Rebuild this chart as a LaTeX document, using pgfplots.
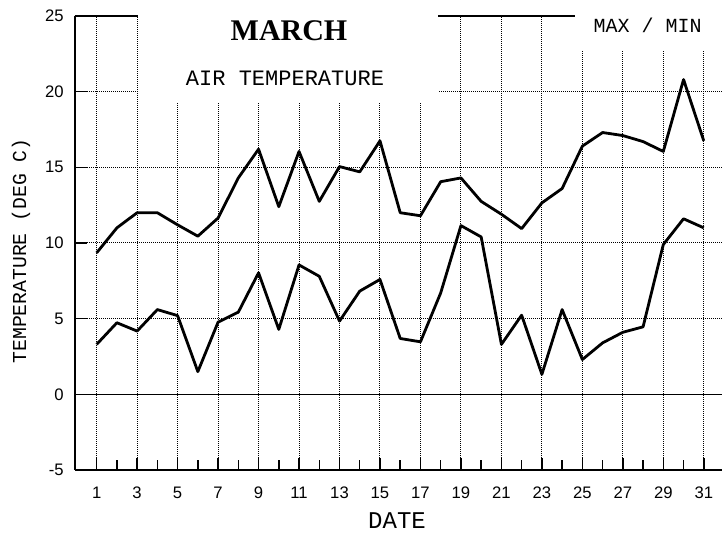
\documentclass[border=0pt]{standalone}
\usepackage{fontspec}
\usepackage{pgfplots}
\pgfplotsset{compat=1.18}
\newfontfamily\tickfont{Liberation Sans}
\newfontfamily\monofont{Liberation Mono}
\newfontfamily\titlefont{Liberation Serif}
\newcommand\tickfontsize{\fontsize{12.5}{14}\selectfont}
\begin{document}
\begin{tikzpicture}
\begin{axis}[
  scale only axis,
  width=485.25pt, height=340.5pt,
  xmin=-0.07, xmax=31.9, ymin=-5, ymax=25,
  axis x line=box, axis y line=left,
  axis line style={-, line width=1.3pt},
  xtick={1,3,...,31}, minor xtick={2,4,...,30},
  ytick={-5,0,...,25},
  xtick pos=left, ytick pos=left,
  tick align=inside,
  major tick length=9pt, minor tick length=7.5pt,
  tick style={black, line width=1.1pt},
  xmajorgrids, ymajorgrids,
  major grid style={black, line width=0.75pt, dash pattern=on 0.75pt off 0.75pt},
  /pgf/number format/assume math mode=true,
  xticklabel={\tickfont\tickfontsize\pgfmathprintnumber[assume math mode=true]{\tick}},
  yticklabel={\tickfont\tickfontsize\pgfmathprintnumber[assume math mode=true]{\tick}},
  xticklabel style={yshift=-9pt},
  yticklabel style={xshift=-5pt},
  clip=false,
]
\addplot[black, line width=1.2pt] coordinates {(-0.07,0) (31.9,0)};
% MAX
\addplot[black, line width=2.1pt, line join=round] coordinates {
(1,9.35) (2,11.0) (3,12.0) (4,12.0) (5,11.2) (6,10.45) (7,11.65) (8,14.3)
(9,16.2) (10,12.4) (11,16.05) (12,12.75) (13,15.05) (14,14.7) (15,16.75)
(16,12.0) (17,11.8) (18,14.05) (19,14.3) (20,12.75) (21,11.9) (22,10.95)
(23,12.65) (24,13.6) (25,16.4) (26,17.3) (27,17.1) (28,16.7) (29,16.05)
(30,20.8) (31,16.75)};
% MIN
\addplot[black, line width=2.1pt, line join=round] coordinates {
(1,3.3) (2,4.73) (3,4.18) (4,5.6) (5,5.2) (6,1.5) (7,4.77) (8,5.43)
(9,8.03) (10,4.29) (11,8.55) (12,7.8) (13,4.84) (14,6.82) (15,7.59)
(16,3.69) (17,3.47) (18,6.7) (19,11.15) (20,10.4) (21,3.3) (22,5.23)
(23,1.32) (24,5.6) (25,2.3) (26,3.4) (27,4.1) (28,4.46) (29,9.9)
(30,11.6) (31,11.0)};
\end{axis}
% boxes covering frame and grid behind the titles
\fill[white] ([shift={(47.25pt,275.25pt)}]current axis.south west) rectangle ([shift={(272.25pt,370pt)}]current axis.south west);
\fill[white] ([shift={(375pt,315pt)}]current axis.south west) rectangle ([shift={(500pt,370pt)}]current axis.south west);
% texts
\node[font=\titlefont\bfseries\fontsize{22.5}{26}\selectfont] at ([shift={(160.5pt,329.25pt)}]current axis.south west) {MARCH};
\node[font=\monofont\fontsize{16.5}{19}\selectfont] at ([shift={(157.5pt,293.6pt)}]current axis.south west) {AIR TEMPERATURE};
\node[font=\monofont\fontsize{15}{18}\selectfont] at ([shift={(429.4pt,333.75pt)}]current axis.south west) {MAX / MIN};
\node[font=\monofont\fontsize{18}{21}\selectfont] at ([shift={(241.5pt,-38.25pt)}]current axis.south west) {DATE};
\node[font=\monofont\fontsize{14.8}{17}\selectfont, rotate=90] at ([shift={(-40.5pt,164.25pt)}]current axis.south west) {TEMPERATURE (DEG C)};
\pgfresetboundingbox
\path[use as bounding box] ([shift={(-56.25pt,-51pt)}]current axis.south west) rectangle ([shift={(486pt,352.5pt)}]current axis.south west);
\end{tikzpicture}
\end{document}
